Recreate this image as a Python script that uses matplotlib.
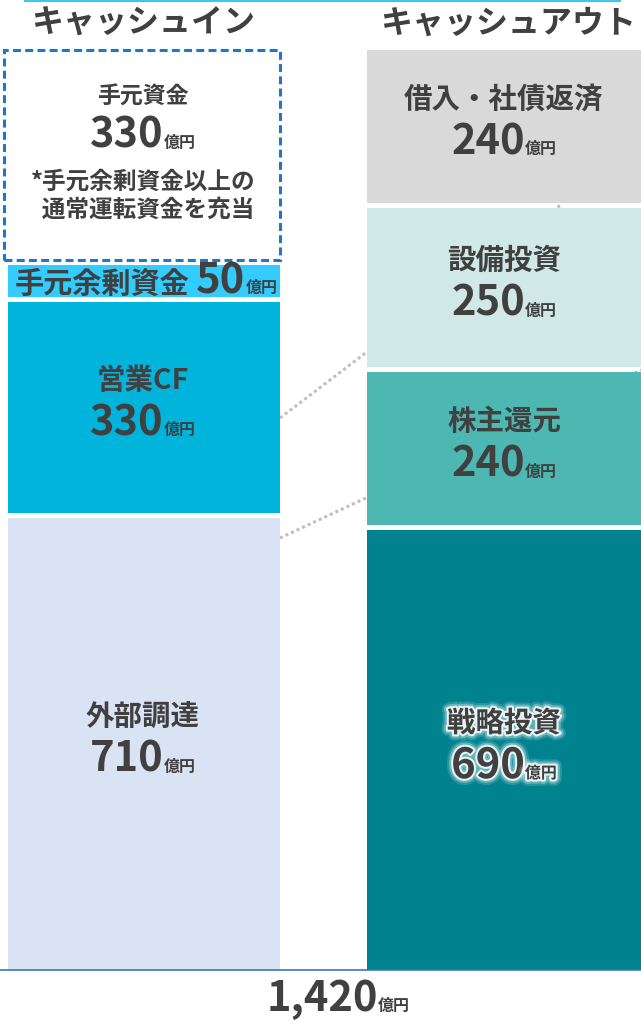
import numpy as np
import matplotlib.pyplot as plt
from matplotlib import patheffects
from matplotlib.lines import Line2D
from matplotlib.offsetbox import TextArea, HPacker, AnnotationBbox

plt.rcParams['font.family'] = ['Noto Sans CJK JP', 'DejaVu Sans']

# キャッシュイン（下から積み上げ）
in_labels = ['外部調達', '営業CF', '手元余剰資金', '手元資金']
in_values = [710, 330, 50, 330]
in_colors = ['#DAE3F3', '#00B4DC', '#33CCFF', 'none']

# キャッシュアウト（下から積み上げ）
out_labels = ['戦略投資', '株主還元', '設備投資', '借入・社債返済']
out_values = [690, 240, 250, 240]
out_colors = ['#00838F', '#4DB8B2', '#D0E8E6', '#D9D9D9']

total = 1420
col_titles = ['キャッシュイン', 'キャッシュアウト']
note_text = '*手元余剰資金以上の\n  通常運転資金を充当'
unit = '億円'

TXT = '#404040'
gap = 8
stack_top = sum(in_values) + gap * (len(in_values) - 1)
px = 920 / stack_top  # pixel per unit

fig = plt.figure(figsize=(6.41, 10.22), dpi=100)
ax = fig.add_axes([0, 0, 1, 1])
ax.set_xlim(0, 641)
ax.set_ylim(-52 / px, stack_top + 50 / px)
ax.axis('off')

xl, xr, bw = 143, 504, 274


def bottoms(vals):
    return [sum(vals[:i]) + i * gap for i in range(len(vals))]


def num_box(num, size=30, glow=None):
    kw = dict(color=TXT, fontweight='bold')
    if glow:
        kw['path_effects'] = glow
    return HPacker(children=[TextArea(str(num), textprops=dict(fontsize=size, **kw)),
                             TextArea(unit, textprops=dict(fontsize=11.5, **kw))],
                   align='baseline', pad=0, sep=0)


def amount(x, y, num, dy=-11.5, glow=None):
    ab = AnnotationBbox(num_box(num, glow=glow), (x, y), xybox=(0, dy),
                        boxcoords='offset points', frameon=False,
                        box_alignment=(0.5, 0.5))
    ax.add_artist(ab)


glow = [patheffects.Stroke(linewidth=9, foreground='white', alpha=0.15),
        patheffects.Stroke(linewidth=6, foreground='white', alpha=0.3),
        patheffects.Stroke(linewidth=3, foreground='white', alpha=0.85),
        patheffects.Normal()]

# 左の積み上げ
lb = bottoms(in_values)
for lab, v, b, c in zip(in_labels, in_values, lb, in_colors):
    yc = b + v / 2
    if c == 'none':
        ax.bar(xl - 1, v, bottom=b, width=bw + 2, fill=False, edgecolor='#2176C7',
               linewidth=2.2, linestyle=(0, (2.6, 1.4)))
        ax.annotate(lab, (xl, yc), xytext=(0, 42), textcoords='offset points',
                    ha='center', va='center', fontsize=16.5, fontweight='bold', color=TXT)
        amount(xl, yc, v, dy=14)
        ax.annotate(note_text, (xl, yc), xytext=(0, -29), textcoords='offset points',
                    ha='center', va='center', fontsize=17, fontweight='bold', color=TXT,
                    multialignment='left', linespacing=1.2)
    elif v < 100:
        ax.bar(xl + 1, v, bottom=b, width=bw - 2, color=c, linewidth=0)
        box = HPacker(children=[TextArea(lab, textprops=dict(fontsize=21, color=TXT, fontweight='bold')),
                                num_box(v, size=30)],
                      align='baseline', pad=0, sep=5)
        ax.add_artist(AnnotationBbox(box, (xl + 3, yc), frameon=False, box_alignment=(0.5, 0.5)))
    else:
        ax.bar(xl + 1, v, bottom=b, width=bw - 2, color=c, linewidth=0)
        ax.annotate(lab, (xl, yc), xytext=(0, 19), textcoords='offset points',
                    ha='center', va='center', fontsize=20.5, fontweight='bold', color=TXT)
        amount(xl, yc, v)

# 右の積み上げ
rb = bottoms(out_values)
for i, (lab, v, b, c) in enumerate(zip(out_labels, out_values, rb, out_colors)):
    yc = b + v / 2
    ax.bar(xr, v, bottom=b, width=bw, color=c, linewidth=0)
    g = glow if i == 0 else None
    t = ax.annotate(lab, (xr, yc), xytext=(0, 19), textcoords='offset points',
                    ha='center', va='center', fontsize=20.5, fontweight='bold', color=TXT)
    if g:
        t.set_path_effects(g)
    amount(xr, yc, v, glow=g)

# 点線（バーの背面）
y1a = lb[1] + in_values[1] * 0.45
y1b = rb[3] - gap / 2
ax.plot([280, 560], [y1a, y1b], color='#BFBFBF', lw=2.2, linestyle=(0, (1, 1)), zorder=0.5)
y2a = lb[1] - 40
y2b = rb[2] - gap / 2
ax.plot([280, 641], [y2a, y2b], color='#BFBFBF', lw=2.2, linestyle=(0, (1, 1)), zorder=0.5)

# 基線と上の線
ax.axhline(0, color='#4472C4', lw=1.2, zorder=3)
fig.add_artist(Line2D([25 / 641, 620 / 641], [0.9993, 0.9993], transform=fig.transFigure,
                      color='#3CC8E6', lw=1.5))

# 見出し
fig.text(xl / 641, 1 - 24 / 1022, col_titles[0], ha='center', va='center',
         fontsize=23, fontweight='bold', color=TXT)
fig.text((xr + 4) / 641, 1 - 24 / 1022, col_titles[1], ha='center', va='center',
         fontsize=23, fontweight='bold', color=TXT)

# 合計
amount(338, 0, f'{total:,}', dy=-21)

fig.savefig('out.png', dpi=100)
